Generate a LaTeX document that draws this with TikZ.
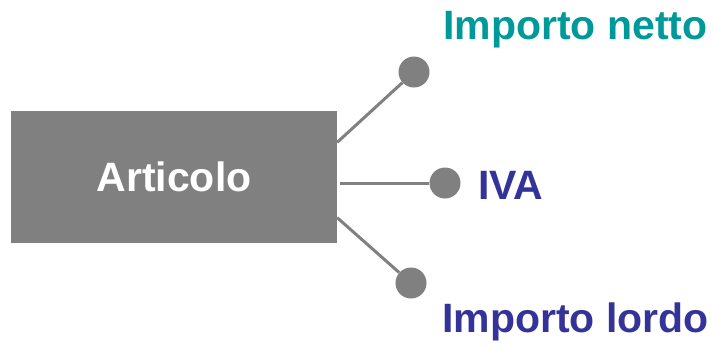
\documentclass[tikz,border=0pt]{standalone}
\usepackage{fontspec}
\setmainfont{Liberation Sans}
\definecolor{boxgray}{HTML}{808080}
\definecolor{tealc}{HTML}{009999}
\definecolor{bluec}{HTML}{333399}
\begin{document}
\begin{tikzpicture}[x=1pt,y=-1pt,
  lbl/.style={inner sep=0pt,anchor=base west,font=\fontsize{41}{48}\selectfont\bfseries},
  dot/.style={circle,fill=boxgray,inner sep=0pt,minimum size=31pt},
  link/.style={draw=boxgray,line width=3pt}]
\useasboundingbox (0,0) rectangle (711,346);
\node[fill=boxgray,minimum width=326pt,minimum height=132pt,inner sep=0pt,text=white,font=\fontsize{41}{48}\selectfont\bfseries] (art) at (174,177) {Articolo};
\node[dot] (c1) at (414,72) {};
\node[dot] (c2) at (445,183) {};
\node[dot] (c3) at (411,283) {};
\node[lbl,text=tealc] (t1) at (443,39) {Importo netto};
\node[lbl,text=bluec] (t2) at (478,199) {IVA};
\node[lbl,text=bluec] (t3) at (442,332) {Importo lordo};
\draw[link] (art.12.8) -- (c1);
\draw[link] ([shift={(3,6)}]art.east) -- (c2);
\draw[link] (art.-14.2) -- (c3);
\end{tikzpicture}
\end{document}
